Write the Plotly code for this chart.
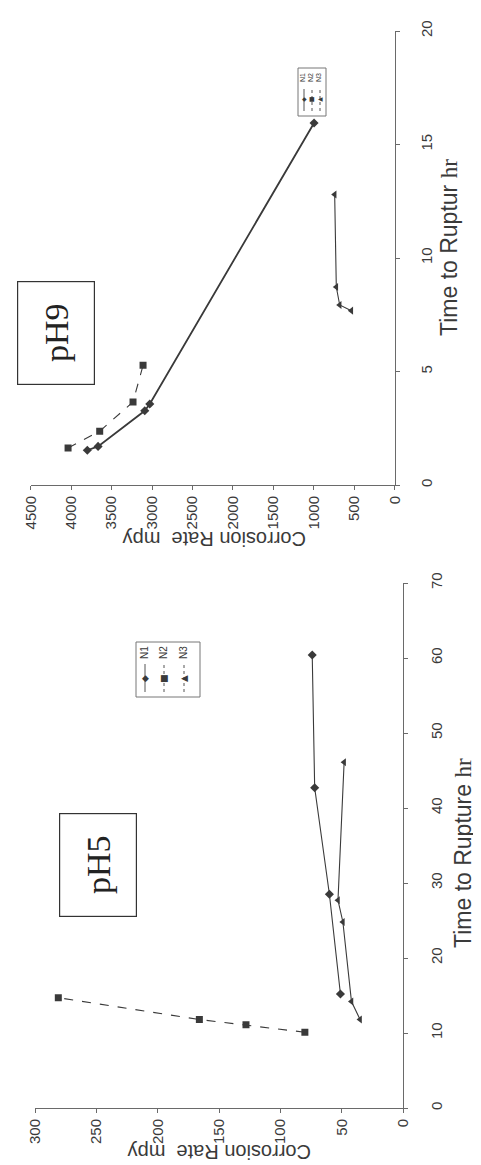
import plotly.graph_objects as go

W, H = 481, 1165

# ---------------- data ----------------
# pH5 panel (Time to Rupture hr, Corrosion Rate mpy)
ph5_n1_time = [15.2, 28.5, 42.7, 60.4]
ph5_n1_rate = [51, 60, 72, 74]
ph5_n2_time = [10.1, 11.1, 11.8, 14.7]
ph5_n2_rate = [80, 128, 166, 281]
ph5_n3_time = [11.8, 14.2, 24.8, 27.7, 46.1]
ph5_n3_rate = [35, 42, 49, 53, 48]

# pH9 panel
ph9_n1_time = [1.53, 1.70, 3.27, 3.57, 15.95]
ph9_n1_rate = [3800, 3667, 3090, 3028, 997]
ph9_n2_time = [1.63, 2.37, 3.66, 5.27]
ph9_n2_rate = [4038, 3647, 3235, 3111]
ph9_n3_time = [7.68, 7.93, 8.72, 12.8]
ph9_n3_rate = [536, 680, 722, 742]

ph5_rate_ticks = [0, 50, 100, 150, 200, 250, 300]
ph5_time_ticks = [0, 10, 20, 30, 40, 50, 60, 70]
ph9_rate_ticks = [0, 500, 1000, 1500, 2000, 2500, 3000, 3500, 4000, 4500]
ph9_time_ticks = [0, 5, 10, 15, 20]

series_names = ["N1", "N2", "N3"]

# ---------------- helpers ----------------
def px(x):
    return x / W

def py(y):
    return 1 - y / H

INK = "#3a3a3a"
AXC = "#6a6a6a"
SANS = "Liberation Sans, Arial, sans-serif"
SERIF = "Liberation Serif, Times New Roman, serif"

fig = go.Figure()

styles = {
    "N1": dict(symbol="diamond", size=7, dash="solid"),
    "N2": dict(symbol="square", size=7, dash="dash"),
    "N3": dict(symbol="triangle-left", size=7, dash="solid"),
}

def add(rate, time, name, xa, ya, width=1.1):
    st = styles[name]
    fig.add_trace(go.Scatter(
        x=rate, y=time, mode="lines+markers", name=name, xaxis=xa, yaxis=ya,
        line=dict(color=INK, width=width, dash=st["dash"]),
        marker=dict(symbol=st["symbol"], size=st["size"], color=INK),
        showlegend=False,
    ))

# pH9 (top)
add(ph9_n1_rate, ph9_n1_time, "N1", "x", "y", width=1.8)
add(ph9_n2_rate, ph9_n2_time, "N2", "x", "y")
add(ph9_n3_rate, ph9_n3_time, "N3", "x", "y")
# pH5 (bottom)
add(ph5_n1_rate, ph5_n1_time, "N1", "x2", "y2")
add(ph5_n2_rate, ph5_n2_time, "N2", "x2", "y2")
add(ph5_n3_rate, ph5_n3_time, "N3", "x2", "y2")

common_x = dict(showline=True, linecolor=AXC, linewidth=1, ticks="outside",
                ticklen=4, tickcolor=AXC, showgrid=False, zeroline=False,
                tickangle=-90, tickfont=dict(family=SANS, size=15, color=INK),
                automargin=False)

def y_axis(domain, rng, vals, anchor, push):
    # long transparent major ticks push the labels away from the axis;
    # short visible minor ticks draw the tick marks.
    return dict(domain=domain, range=rng, anchor=anchor, tickvals=vals,
                showline=True, linecolor=AXC, linewidth=1,
                ticks="outside", ticklen=push, tickcolor="rgba(0,0,0,0)",
                minor=dict(tickvals=vals, ticks="outside", ticklen=4,
                           tickcolor=AXC, showgrid=False),
                showgrid=False, zeroline=False, side="right", tickangle=-90,
                tickfont=dict(family=SANS, size=15, color=INK),
                automargin=False)

fig.update_layout(
    width=W, height=H, autosize=False,
    margin=dict(l=0, r=0, t=0, b=0),
    paper_bgcolor="white", plot_bgcolor="white",
    showlegend=False,
    xaxis=dict(domain=[px(22.7), px(386.7)], range=[4500, 0], anchor="y",
               tickvals=ph9_rate_ticks, **common_x),
    yaxis=y_axis([py(477), py(23)], [0, 20], ph9_time_ticks, "x", 18),
    xaxis2=dict(domain=[px(27), px(395)], range=[300, 0], anchor="y2",
                tickvals=ph5_rate_ticks, **common_x),
    yaxis2=y_axis([py(1100), py(575)], [0, 70], ph5_time_ticks, "x2", 20),
)

ann = []

def note(cx, cy, text, angle, font, **kw):
    ann.append(dict(x=px(cx), y=py(cy), xref="paper", yref="paper",
                    xanchor="center", yanchor="middle",
                    text=text, textangle=angle, showarrow=False, font=font, **kw))

# axis titles
for cx, cy in [(207, 531), (212, 1144)]:
    note(cx, cy, "Corrosion Rate\u00a0 mpy", 180, dict(family=SANS, size=20, color=INK))
note(441, 240, "Time to Ruptur <span style='font-family:Liberation Serif'>hr</span>",
     -90, dict(family=SANS, size=23, color=INK))
note(455, 845, "Time to Rupture <span style='font-family:Liberation Serif'>hr</span>",
     -90, dict(family=SANS, size=23, color=INK))

# pH boxes
for label, cx, cy in [("pH9", 48, 325), ("pH5", 90, 857)]:
    note(cx, cy, label, -90, dict(family=SERIF, size=34, color="#222"),
         width=100, height=74, bordercolor="#333", borderwidth=1.2)

shapes = []
glyph = {"N1": "\u25c6", "N2": "\u25a0", "N3": "\u25c0"}
dashes = {"N1": "solid", "N2": "dot", "N3": "dot"}

def legend(x0, x1, y0, y1, xs, label_y, marker_y, line_y0, line_y1, fsize, msize):
    shapes.append(dict(type="rect", xref="paper", yref="paper",
                       x0=px(x0), x1=px(x1), y0=py(y1), y1=py(y0),
                       line=dict(color="#777", width=1)))
    for name, xc in zip(series_names, xs):
        shapes.append(dict(type="line", xref="paper", yref="paper",
                           x0=px(xc), x1=px(xc), y0=py(line_y1), y1=py(line_y0),
                           line=dict(color="#555", width=1, dash=dashes[name])))
        note(xc, marker_y, glyph[name], 0, dict(family="DejaVu Sans", size=msize, color=INK))
        note(xc - 1, label_y, name, -90, dict(family=SANS, size=fsize, color=INK))

legend(290, 318, 60, 108, [296, 304, 312], 70, 91, 81, 103, 7, 6)
legend(128, 192, 634, 689, [137, 156, 176], 645, 670, 656, 684, 10, 9)

fig.update_layout(annotations=ann, shapes=shapes)

fig.write_html("out.html")
